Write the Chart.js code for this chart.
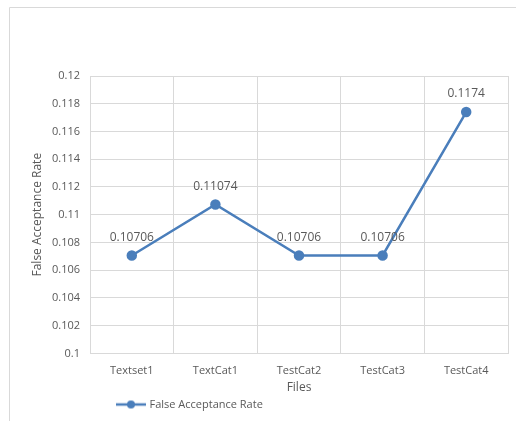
<!DOCTYPE html>
<html>
<head>
<meta charset="utf-8">
<script src="https://cdn.jsdelivr.net/npm/chart.js@4/dist/chart.umd.min.js"></script>
<style>
html,body{margin:0;padding:0;background:#fff;}
#wrap{width:516px;height:421px;position:relative;}
</style>
</head>
<body>
<div id="wrap"><canvas id="c" width="516" height="421"></canvas></div>
<script>
const categories = ['Textset1', 'TextCat1', 'TestCat2', 'TestCat3', 'TestCat4'];
const farValues = [0.10706, 0.11074, 0.10706, 0.10706, 0.1174];
const valueLabels = ['0.10706', '0.11074', '0.10706', '0.10706', '0.1174'];
const seriesName = 'False Acceptance Rate';
const yTicks = [0.1, 0.102, 0.104, 0.106, 0.108, 0.11, 0.112, 0.114, 0.116, 0.118, 0.12];

const LINE = '#4a7ebb';
const TXT = '#595959';
const FONT = 'Open Sans';

// legend symbol: line with dot
const sym = document.createElement('canvas');
sym.width = 30; sym.height = 10;
(function(){
  const g = sym.getContext('2d');
  g.strokeStyle = LINE; g.lineWidth = 2.5;
  g.beginPath(); g.moveTo(0,5); g.lineTo(30,5); g.stroke();
  g.fillStyle = LINE; g.beginPath(); g.arc(15,5,4,0,Math.PI*2); g.fill();
})();

const frame = {
  id: 'frame',
  beforeDraw(chart){
    const ctx = chart.ctx;
    ctx.save();
    ctx.strokeStyle = '#d9d9d9'; ctx.lineWidth = 1;
    ctx.beginPath();
    ctx.moveTo(9.5, 421); ctx.lineTo(9.5, 7.5); ctx.lineTo(516, 7.5);
    ctx.stroke();
    ctx.restore();
    // position legend like the reference (left of centre)
    if (chart.legend) {
      const w = chart.legend.right - chart.legend.left;
      chart.legend.left = 114;
      chart.legend.right = 114 + w;
    }
  }
};

const dataLabels = {
  id: 'dataLabels',
  afterDatasetsDraw(chart){
    const ctx = chart.ctx;
    const meta = chart.getDatasetMeta(0);
    ctx.save();
    ctx.font = '12px "' + FONT + '"';
    ctx.fillStyle = TXT;
    ctx.textAlign = 'center';
    ctx.textBaseline = 'middle';
    meta.data.forEach((pt, i) => {
      ctx.fillText(valueLabels[i], pt.x, pt.y - 18);
    });
    ctx.restore();
  }
};

new Chart(document.getElementById('c'), {
  type: 'line',
  data: {
    labels: categories,
    datasets: [{
      label: seriesName,
      data: farValues,
      borderColor: LINE,
      backgroundColor: LINE,
      borderWidth: 2.5,
      pointRadius: 4,
      pointHoverRadius: 4,
      pointBackgroundColor: LINE,
      pointBorderColor: LINE,
      tension: 0
    }]
  },
  options: {
    responsive: false,
    animation: false,
    events: [],
    layout: { padding: { left: 30, right: 8, top: 76, bottom: 1 } },
    plugins: {
      legend: {
        position: 'bottom',
        align: 'start',
        labels: {
          usePointStyle: true,
          pointStyleWidth: 26,
          boxHeight: 10,
          color: TXT,
          font: { family: FONT, size: 11 },
          padding: 4,
          generateLabels(chart){
            return [{ text: seriesName, pointStyle: sym, fillStyle: LINE, strokeStyle: LINE, lineWidth: 0, datasetIndex: 0, fontColor: TXT }];
          }
        }
      },
      tooltip: { enabled: false },
      title: { display: false }
    },
    scales: {
      x: {
        offset: true,
        grid: { offset: true, color: '#d9d9d9', drawTicks: false },
        border: { color: '#d9d9d9' },
        ticks: { color: TXT, font: { family: FONT, size: 11 }, padding: 11 },
        title: { display: true, text: 'Files', color: TXT, font: { family: FONT, size: 12 }, padding: { top: -8, bottom: 0 } }
      },
      y: {
        min: 0.1, max: 0.12,
        afterBuildTicks(scale){ scale.ticks = yTicks.map(v => ({ value: v })); },
        afterFit(scale){ scale.width = 60; },
        grid: { color: '#d9d9d9', drawTicks: false },
        border: { color: '#d9d9d9' },
        ticks: { color: TXT, font: { family: FONT, size: 11 }, padding: 10,
          callback: (v) => String(parseFloat(v.toFixed(3))) },
        title: { display: true, text: 'False Acceptance Rate', color: TXT, font: { family: FONT, size: 12 }, padding: { top: 0, bottom: 4 } }
      }
    }
  },
  plugins: [frame, dataLabels]
});
</script>
</body>
</html>
